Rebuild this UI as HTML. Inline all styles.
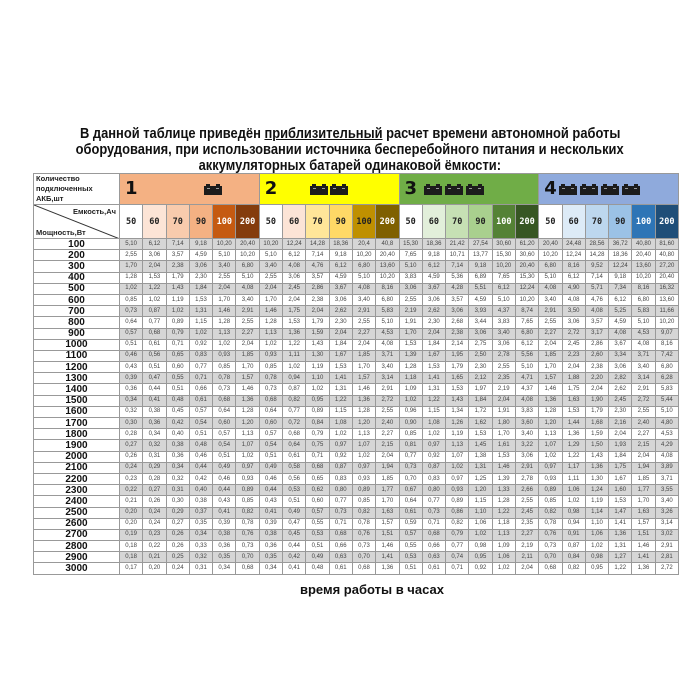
<!DOCTYPE html>
<html><head><meta charset="utf-8"><style>
body{margin:0;width:700px;height:700px;background:#fff;position:relative;overflow:hidden;font-family:"Liberation Sans","DejaVu Sans",sans-serif}
.t{position:absolute;left:0;width:700px;text-align:center;font-weight:bold;font-size:15px;color:#111;white-space:nowrap}
.t span{display:inline-block;transform:scaleX(0.86)}
table{position:absolute;left:33px;top:173px;width:645px;height:400px;border-collapse:collapse;table-layout:fixed}
td{border:1px solid #999;padding:0;text-align:center;overflow:hidden;white-space:nowrap}
tr.d{height:11.2px}
tr.d td{font-size:6px;color:#444;line-height:9px}
tr.d td:first-child{font-size:10px;font-weight:bold;color:#111;background:#fff}
tr.g td{background:#d6d6d6}
.cap td{font-family:"DejaVu Sans Mono",monospace;font-weight:bold;font-size:8.5px;color:#222}
.w{color:#fff!important}
.hd{position:relative}
.hd b{position:absolute;left:5px;top:4px;font-size:18px;font-family:"DejaVu Sans",sans-serif;color:#111}
.hd svg{position:absolute;top:9px}
</style></head><body>
<svg width="0" height="0" style="position:absolute"><defs><g id="bt"><rect x="0" y="3" width="18" height="9" fill="#1c1c1c"/><rect x="2" y="1" width="4" height="2" fill="#1c1c1c"/><rect x="12" y="1" width="4" height="2" fill="#1c1c1c"/><rect x="3" y="5" width="3" height="1" fill="#999"/><rect x="12" y="5" width="3" height="1" fill="#999"/></g></defs></svg>
<div class="t" style="top:125px"><span>В данной таблице приведён <u>приблизительный</u> расчет времени автономной работы</span></div>
<div class="t" style="top:141px"><span>оборудования, при использовании источника бесперебойного питания и нескольких</span></div>
<div class="t" style="top:157px"><span>аккумуляторных батарей одинаковой ёмкости:</span></div>
<table>
<colgroup><col style="width:86px"><col span="24" style="width:23.29px"></colgroup>
<tr style="height:30px">
<td style="text-align:left;font-size:7.5px;font-weight:bold;line-height:10px;padding-left:2px;color:#222">Количество<br>подключенных<br>АКБ,шт</td>
<td colspan="6" class="hd" style="background:#f4b183"><b>1</b><svg style="left:84px" width="18" height="12"><use href="#bt"/></svg></td>
<td colspan="6" class="hd" style="background:#ffff00"><b>2</b><svg style="left:50px" width="40" height="12"><use href="#bt"/><use href="#bt" x="20"/></svg></td>
<td colspan="6" class="hd" style="background:#70ad47"><b>3</b><svg style="left:24px" width="62" height="12"><use href="#bt"/><use href="#bt" x="21"/><use href="#bt" x="42"/></svg></td>
<td colspan="6" class="hd" style="background:#8faadc"><b>4</b><svg style="left:20px" width="84" height="12"><use href="#bt"/><use href="#bt" x="21"/><use href="#bt" x="42"/><use href="#bt" x="63"/></svg></td>
</tr>
<tr class="cap" style="height:34px">
<td style="position:relative;font-family:'Liberation Sans',sans-serif;font-size:7.5px;color:#222"><svg style="position:absolute;left:0;top:0" width="86" height="34"><line x1="0" y1="0" x2="86" y2="34" stroke="#333" stroke-width="1"/></svg><span style="position:absolute;right:3px;top:2px">Емкость,Ач</span><span style="position:absolute;left:2px;bottom:1px">Мощность,Вт</span></td>
<td style="background:#fff">50</td><td style="background:#fce4d6">60</td><td style="background:#f8cbad">70</td><td style="background:#f4b183">90</td><td class="w" style="background:#c55a11">100</td><td class="w" style="background:#843c0c">200</td>
<td style="background:#fff">50</td><td style="background:#fce4d6">60</td><td style="background:#ffe699">70</td><td style="background:#ffd966">90</td><td style="background:#bf9000">100</td><td class="w" style="background:#7f6000">200</td>
<td style="background:#fff">50</td><td style="background:#e2efda">60</td><td style="background:#c6e0b4">70</td><td style="background:#a9d08e">90</td><td class="w" style="background:#548235">100</td><td class="w" style="background:#375623">200</td>
<td style="background:#fff">50</td><td style="background:#ddebf7">60</td><td style="background:#bdd7ee">70</td><td style="background:#9bc2e6">90</td><td class="w" style="background:#2e75b6">100</td><td class="w" style="background:#1f4e78">200</td>
</tr>
<tr class="d g"><td>100</td><td>5,10</td><td>6,12</td><td>7,14</td><td>9,18</td><td>10,20</td><td>20,40</td><td>10,20</td><td>12,24</td><td>14,28</td><td>18,36</td><td>20,4</td><td>40,8</td><td>15,30</td><td>18,36</td><td>21,42</td><td>27,54</td><td>30,60</td><td>61,20</td><td>20,40</td><td>24,48</td><td>28,56</td><td>36,72</td><td>40,80</td><td>81,60</td></tr>
<tr class="d"><td>200</td><td>2,55</td><td>3,06</td><td>3,57</td><td>4,59</td><td>5,10</td><td>10,20</td><td>5,10</td><td>6,12</td><td>7,14</td><td>9,18</td><td>10,20</td><td>20,40</td><td>7,65</td><td>9,18</td><td>10,71</td><td>13,77</td><td>15,30</td><td>30,60</td><td>10,20</td><td>12,24</td><td>14,28</td><td>18,36</td><td>20,40</td><td>40,80</td></tr>
<tr class="d g"><td>300</td><td>1,70</td><td>2,04</td><td>2,38</td><td>3,06</td><td>3,40</td><td>6,80</td><td>3,40</td><td>4,08</td><td>4,76</td><td>6,12</td><td>6,80</td><td>13,60</td><td>5,10</td><td>6,12</td><td>7,14</td><td>9,18</td><td>10,20</td><td>20,40</td><td>6,80</td><td>8,16</td><td>9,52</td><td>12,24</td><td>13,60</td><td>27,20</td></tr>
<tr class="d"><td>400</td><td>1,28</td><td>1,53</td><td>1,79</td><td>2,30</td><td>2,55</td><td>5,10</td><td>2,55</td><td>3,06</td><td>3,57</td><td>4,59</td><td>5,10</td><td>10,20</td><td>3,83</td><td>4,59</td><td>5,36</td><td>6,89</td><td>7,65</td><td>15,30</td><td>5,10</td><td>6,12</td><td>7,14</td><td>9,18</td><td>10,20</td><td>20,40</td></tr>
<tr class="d g"><td>500</td><td>1,02</td><td>1,22</td><td>1,43</td><td>1,84</td><td>2,04</td><td>4,08</td><td>2,04</td><td>2,45</td><td>2,86</td><td>3,67</td><td>4,08</td><td>8,16</td><td>3,06</td><td>3,67</td><td>4,28</td><td>5,51</td><td>6,12</td><td>12,24</td><td>4,08</td><td>4,90</td><td>5,71</td><td>7,34</td><td>8,16</td><td>16,32</td></tr>
<tr class="d"><td>600</td><td>0,85</td><td>1,02</td><td>1,19</td><td>1,53</td><td>1,70</td><td>3,40</td><td>1,70</td><td>2,04</td><td>2,38</td><td>3,06</td><td>3,40</td><td>6,80</td><td>2,55</td><td>3,06</td><td>3,57</td><td>4,59</td><td>5,10</td><td>10,20</td><td>3,40</td><td>4,08</td><td>4,76</td><td>6,12</td><td>6,80</td><td>13,60</td></tr>
<tr class="d g"><td>700</td><td>0,73</td><td>0,87</td><td>1,02</td><td>1,31</td><td>1,46</td><td>2,91</td><td>1,46</td><td>1,75</td><td>2,04</td><td>2,62</td><td>2,91</td><td>5,83</td><td>2,19</td><td>2,62</td><td>3,06</td><td>3,93</td><td>4,37</td><td>8,74</td><td>2,91</td><td>3,50</td><td>4,08</td><td>5,25</td><td>5,83</td><td>11,66</td></tr>
<tr class="d"><td>800</td><td>0,64</td><td>0,77</td><td>0,89</td><td>1,15</td><td>1,28</td><td>2,55</td><td>1,28</td><td>1,53</td><td>1,79</td><td>2,30</td><td>2,55</td><td>5,10</td><td>1,91</td><td>2,30</td><td>2,68</td><td>3,44</td><td>3,83</td><td>7,65</td><td>2,55</td><td>3,06</td><td>3,57</td><td>4,59</td><td>5,10</td><td>10,20</td></tr>
<tr class="d g"><td>900</td><td>0,57</td><td>0,68</td><td>0,79</td><td>1,02</td><td>1,13</td><td>2,27</td><td>1,13</td><td>1,36</td><td>1,59</td><td>2,04</td><td>2,27</td><td>4,53</td><td>1,70</td><td>2,04</td><td>2,38</td><td>3,06</td><td>3,40</td><td>6,80</td><td>2,27</td><td>2,72</td><td>3,17</td><td>4,08</td><td>4,53</td><td>9,07</td></tr>
<tr class="d"><td>1000</td><td>0,51</td><td>0,61</td><td>0,71</td><td>0,92</td><td>1,02</td><td>2,04</td><td>1,02</td><td>1,22</td><td>1,43</td><td>1,84</td><td>2,04</td><td>4,08</td><td>1,53</td><td>1,84</td><td>2,14</td><td>2,75</td><td>3,06</td><td>6,12</td><td>2,04</td><td>2,45</td><td>2,86</td><td>3,67</td><td>4,08</td><td>8,16</td></tr>
<tr class="d g"><td>1100</td><td>0,46</td><td>0,56</td><td>0,65</td><td>0,83</td><td>0,93</td><td>1,85</td><td>0,93</td><td>1,11</td><td>1,30</td><td>1,67</td><td>1,85</td><td>3,71</td><td>1,39</td><td>1,67</td><td>1,95</td><td>2,50</td><td>2,78</td><td>5,56</td><td>1,85</td><td>2,23</td><td>2,60</td><td>3,34</td><td>3,71</td><td>7,42</td></tr>
<tr class="d"><td>1200</td><td>0,43</td><td>0,51</td><td>0,60</td><td>0,77</td><td>0,85</td><td>1,70</td><td>0,85</td><td>1,02</td><td>1,19</td><td>1,53</td><td>1,70</td><td>3,40</td><td>1,28</td><td>1,53</td><td>1,79</td><td>2,30</td><td>2,55</td><td>5,10</td><td>1,70</td><td>2,04</td><td>2,38</td><td>3,06</td><td>3,40</td><td>6,80</td></tr>
<tr class="d g"><td>1300</td><td>0,39</td><td>0,47</td><td>0,55</td><td>0,71</td><td>0,78</td><td>1,57</td><td>0,78</td><td>0,94</td><td>1,10</td><td>1,41</td><td>1,57</td><td>3,14</td><td>1,18</td><td>1,41</td><td>1,65</td><td>2,12</td><td>2,35</td><td>4,71</td><td>1,57</td><td>1,88</td><td>2,20</td><td>2,82</td><td>3,14</td><td>6,28</td></tr>
<tr class="d"><td>1400</td><td>0,36</td><td>0,44</td><td>0,51</td><td>0,66</td><td>0,73</td><td>1,46</td><td>0,73</td><td>0,87</td><td>1,02</td><td>1,31</td><td>1,46</td><td>2,91</td><td>1,09</td><td>1,31</td><td>1,53</td><td>1,97</td><td>2,19</td><td>4,37</td><td>1,46</td><td>1,75</td><td>2,04</td><td>2,62</td><td>2,91</td><td>5,83</td></tr>
<tr class="d g"><td>1500</td><td>0,34</td><td>0,41</td><td>0,48</td><td>0,61</td><td>0,68</td><td>1,36</td><td>0,68</td><td>0,82</td><td>0,95</td><td>1,22</td><td>1,36</td><td>2,72</td><td>1,02</td><td>1,22</td><td>1,43</td><td>1,84</td><td>2,04</td><td>4,08</td><td>1,36</td><td>1,63</td><td>1,90</td><td>2,45</td><td>2,72</td><td>5,44</td></tr>
<tr class="d"><td>1600</td><td>0,32</td><td>0,38</td><td>0,45</td><td>0,57</td><td>0,64</td><td>1,28</td><td>0,64</td><td>0,77</td><td>0,89</td><td>1,15</td><td>1,28</td><td>2,55</td><td>0,96</td><td>1,15</td><td>1,34</td><td>1,72</td><td>1,91</td><td>3,83</td><td>1,28</td><td>1,53</td><td>1,79</td><td>2,30</td><td>2,55</td><td>5,10</td></tr>
<tr class="d g"><td>1700</td><td>0,30</td><td>0,36</td><td>0,42</td><td>0,54</td><td>0,60</td><td>1,20</td><td>0,60</td><td>0,72</td><td>0,84</td><td>1,08</td><td>1,20</td><td>2,40</td><td>0,90</td><td>1,08</td><td>1,26</td><td>1,62</td><td>1,80</td><td>3,60</td><td>1,20</td><td>1,44</td><td>1,68</td><td>2,16</td><td>2,40</td><td>4,80</td></tr>
<tr class="d"><td>1800</td><td>0,28</td><td>0,34</td><td>0,40</td><td>0,51</td><td>0,57</td><td>1,13</td><td>0,57</td><td>0,68</td><td>0,79</td><td>1,02</td><td>1,13</td><td>2,27</td><td>0,85</td><td>1,02</td><td>1,19</td><td>1,53</td><td>1,70</td><td>3,40</td><td>1,13</td><td>1,36</td><td>1,59</td><td>2,04</td><td>2,27</td><td>4,53</td></tr>
<tr class="d g"><td>1900</td><td>0,27</td><td>0,32</td><td>0,38</td><td>0,48</td><td>0,54</td><td>1,07</td><td>0,54</td><td>0,64</td><td>0,75</td><td>0,97</td><td>1,07</td><td>2,15</td><td>0,81</td><td>0,97</td><td>1,13</td><td>1,45</td><td>1,61</td><td>3,22</td><td>1,07</td><td>1,29</td><td>1,50</td><td>1,93</td><td>2,15</td><td>4,29</td></tr>
<tr class="d"><td>2000</td><td>0,26</td><td>0,31</td><td>0,36</td><td>0,46</td><td>0,51</td><td>1,02</td><td>0,51</td><td>0,61</td><td>0,71</td><td>0,92</td><td>1,02</td><td>2,04</td><td>0,77</td><td>0,92</td><td>1,07</td><td>1,38</td><td>1,53</td><td>3,06</td><td>1,02</td><td>1,22</td><td>1,43</td><td>1,84</td><td>2,04</td><td>4,08</td></tr>
<tr class="d g"><td>2100</td><td>0,24</td><td>0,29</td><td>0,34</td><td>0,44</td><td>0,49</td><td>0,97</td><td>0,49</td><td>0,58</td><td>0,68</td><td>0,87</td><td>0,97</td><td>1,94</td><td>0,73</td><td>0,87</td><td>1,02</td><td>1,31</td><td>1,46</td><td>2,91</td><td>0,97</td><td>1,17</td><td>1,36</td><td>1,75</td><td>1,94</td><td>3,89</td></tr>
<tr class="d"><td>2200</td><td>0,23</td><td>0,28</td><td>0,32</td><td>0,42</td><td>0,46</td><td>0,93</td><td>0,46</td><td>0,56</td><td>0,65</td><td>0,83</td><td>0,93</td><td>1,85</td><td>0,70</td><td>0,83</td><td>0,97</td><td>1,25</td><td>1,39</td><td>2,78</td><td>0,93</td><td>1,11</td><td>1,30</td><td>1,67</td><td>1,85</td><td>3,71</td></tr>
<tr class="d g"><td>2300</td><td>0,22</td><td>0,27</td><td>0,31</td><td>0,40</td><td>0,44</td><td>0,89</td><td>0,44</td><td>0,53</td><td>0,62</td><td>0,80</td><td>0,89</td><td>1,77</td><td>0,67</td><td>0,80</td><td>0,93</td><td>1,20</td><td>1,33</td><td>2,66</td><td>0,89</td><td>1,06</td><td>1,24</td><td>1,60</td><td>1,77</td><td>3,55</td></tr>
<tr class="d"><td>2400</td><td>0,21</td><td>0,26</td><td>0,30</td><td>0,38</td><td>0,43</td><td>0,85</td><td>0,43</td><td>0,51</td><td>0,60</td><td>0,77</td><td>0,85</td><td>1,70</td><td>0,64</td><td>0,77</td><td>0,89</td><td>1,15</td><td>1,28</td><td>2,55</td><td>0,85</td><td>1,02</td><td>1,19</td><td>1,53</td><td>1,70</td><td>3,40</td></tr>
<tr class="d g"><td>2500</td><td>0,20</td><td>0,24</td><td>0,29</td><td>0,37</td><td>0,41</td><td>0,82</td><td>0,41</td><td>0,49</td><td>0,57</td><td>0,73</td><td>0,82</td><td>1,63</td><td>0,61</td><td>0,73</td><td>0,86</td><td>1,10</td><td>1,22</td><td>2,45</td><td>0,82</td><td>0,98</td><td>1,14</td><td>1,47</td><td>1,63</td><td>3,26</td></tr>
<tr class="d"><td>2600</td><td>0,20</td><td>0,24</td><td>0,27</td><td>0,35</td><td>0,39</td><td>0,78</td><td>0,39</td><td>0,47</td><td>0,55</td><td>0,71</td><td>0,78</td><td>1,57</td><td>0,59</td><td>0,71</td><td>0,82</td><td>1,06</td><td>1,18</td><td>2,35</td><td>0,78</td><td>0,94</td><td>1,10</td><td>1,41</td><td>1,57</td><td>3,14</td></tr>
<tr class="d g"><td>2700</td><td>0,19</td><td>0,23</td><td>0,26</td><td>0,34</td><td>0,38</td><td>0,76</td><td>0,38</td><td>0,45</td><td>0,53</td><td>0,68</td><td>0,76</td><td>1,51</td><td>0,57</td><td>0,68</td><td>0,79</td><td>1,02</td><td>1,13</td><td>2,27</td><td>0,76</td><td>0,91</td><td>1,06</td><td>1,36</td><td>1,51</td><td>3,02</td></tr>
<tr class="d"><td>2800</td><td>0,18</td><td>0,22</td><td>0,26</td><td>0,33</td><td>0,36</td><td>0,73</td><td>0,36</td><td>0,44</td><td>0,51</td><td>0,66</td><td>0,73</td><td>1,46</td><td>0,55</td><td>0,66</td><td>0,77</td><td>0,98</td><td>1,09</td><td>2,19</td><td>0,73</td><td>0,87</td><td>1,02</td><td>1,31</td><td>1,46</td><td>2,91</td></tr>
<tr class="d g"><td>2900</td><td>0,18</td><td>0,21</td><td>0,25</td><td>0,32</td><td>0,35</td><td>0,70</td><td>0,35</td><td>0,42</td><td>0,49</td><td>0,63</td><td>0,70</td><td>1,41</td><td>0,53</td><td>0,63</td><td>0,74</td><td>0,95</td><td>1,06</td><td>2,11</td><td>0,70</td><td>0,84</td><td>0,98</td><td>1,27</td><td>1,41</td><td>2,81</td></tr>
<tr class="d"><td>3000</td><td>0,17</td><td>0,20</td><td>0,24</td><td>0,31</td><td>0,34</td><td>0,68</td><td>0,34</td><td>0,41</td><td>0,48</td><td>0,61</td><td>0,68</td><td>1,36</td><td>0,51</td><td>0,61</td><td>0,71</td><td>0,92</td><td>1,02</td><td>2,04</td><td>0,68</td><td>0,82</td><td>0,95</td><td>1,22</td><td>1,36</td><td>2,72</td></tr>
</table>
<div style="position:absolute;left:300px;top:582px;font-weight:bold;font-size:13px;color:#111;white-space:nowrap">время работы в часах</div>
</body></html>
